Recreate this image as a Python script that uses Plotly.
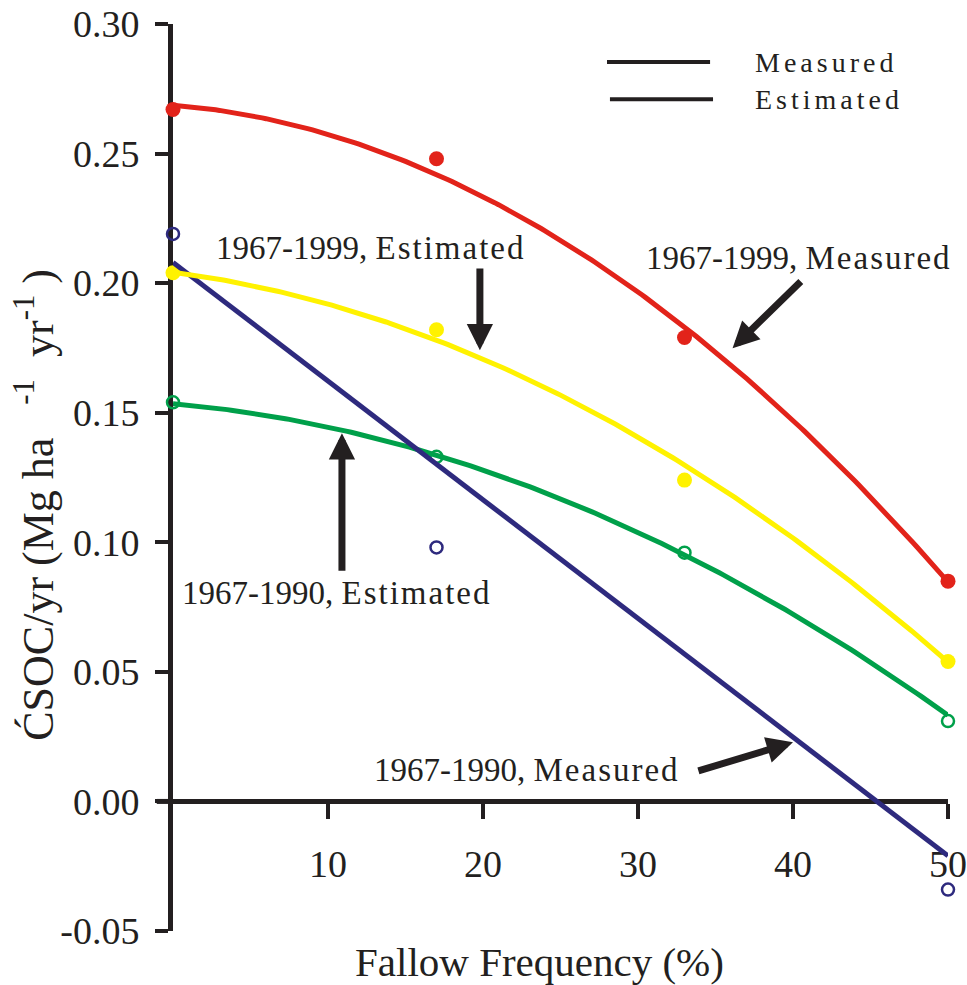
import numpy as np
import plotly.graph_objects as go

# ---- data ----
fallow = [0, 17, 33, 50]
measured_1999 = [0.267, 0.248, 0.179, 0.085]    # red, filled
estimated_1999 = [0.204, 0.182, 0.124, 0.054]   # yellow, filled
estimated_1990 = [0.154, 0.133, 0.096, 0.031]   # green, open
measured_1990_x = [0, 17, 50]
measured_1990 = [0.219, 0.098, -0.034]          # blue, open

# trend-line coefficients (c0 + c1*x + c2*x^2)
fit_measured_1999 = [0.2687, -0.00049, -6.38e-5]
fit_estimated_1999 = [0.2042, -0.000784, -4.45e-5]
fit_estimated_1990 = [0.1535, -0.00053, -3.75e-5]
fit_measured_1990 = [0.208, -0.00458, 0.0]

y_ticks = [-0.05, 0.0, 0.05, 0.10, 0.15, 0.20, 0.25, 0.30]
y_tick_text = ["-0.05", "0.00", "0.05", "0.10", "0.15", "0.20", "0.25", "0.30"]
x_ticks = [10, 20, 30, 40, 50]
x_tick_text = ["10", "20", "30", "40", "50"]

RED = "#E2231A"
YEL = "#FFF200"
GRN = "#00A04A"
BLU = "#2E2A7E"
INK = "#231F20"
FONT = "Liberation Serif"

xs = np.linspace(0, 50, 201)

def curve(c):
    return c[0] + c[1] * xs + c[2] * xs ** 2

fig = go.Figure()

# markers
fig.add_trace(go.Scatter(x=fallow, y=measured_1999, mode="markers", cliponaxis=False,
                         marker=dict(size=15, color=RED), showlegend=False))
fig.add_trace(go.Scatter(x=fallow, y=estimated_1999, mode="markers", cliponaxis=False,
                         marker=dict(size=15, color=YEL), showlegend=False))
fig.add_trace(go.Scatter(x=fallow, y=estimated_1990, mode="markers", cliponaxis=False,
                         marker=dict(size=12, color=GRN, symbol="circle-open",
                                     line=dict(color=GRN, width=2.5)), showlegend=False))
fig.add_trace(go.Scatter(x=measured_1990_x, y=measured_1990, mode="markers", cliponaxis=False,
                         marker=dict(size=12, color=BLU, symbol="circle-open",
                                     line=dict(color=BLU, width=2.5)), showlegend=False))

# trend lines
for c, col in [(fit_estimated_1990, GRN), (fit_measured_1990, BLU),
               (fit_estimated_1999, YEL), (fit_measured_1999, RED)]:
    fig.add_trace(go.Scatter(x=xs, y=curve(c), mode="lines", cliponaxis=False,
                             line=dict(color=col, width=5), showlegend=False,
                             hoverinfo="skip"))

annotations = []

def label(text, x, y, size=33, xanchor="center"):
    annotations.append(dict(x=x, y=y, xref="x", yref="y", text=text, showarrow=False,
                            xanchor=xanchor, yanchor="middle",
                            font=dict(family=FONT, size=size, color=INK)))

label("1967-1999, <span style='letter-spacing:2px'>Estimated</span>", 12.71, 0.2135)
label("1967-1999, <span style='letter-spacing:2px'>Measured</span>", 40.4, 0.2097)
label("1967-1990, <span style='letter-spacing:2px'>Estimated</span>", 10.55, 0.0803)
label("1967-1990, <span style='letter-spacing:2px'>Measured</span>", 22.87, 0.0120)

# arrows (tail -> head)
def arrow(x0, y0, x1, y1):
    annotations.append(dict(x=x1, y=y1, ax=x0, ay=y0, xref="x", yref="y",
                            axref="x", ayref="y", text="", showarrow=True,
                            arrowhead=2, arrowsize=0.75, arrowwidth=7,
                            arrowcolor=INK, standoff=0, startstandoff=0))

arrow(19.8, 0.2062, 19.8, 0.1741)
arrow(40.6, 0.2012, 36.1, 0.1749)
arrow(10.9, 0.0884, 10.9, 0.1421)
arrow(33.8, 0.0116, 40.0, 0.0228)

# legend texts
label("<span style='letter-spacing:4px'>Measured</span>", 37.42, 0.2853, size=28, xanchor="left")
label("<span style='letter-spacing:4px'>Estimated</span>", 37.42, 0.2710, size=28, xanchor="left")

# y-axis title
annotations.append(dict(x=-0.178, y=0.47, xref="paper", yref="paper", showarrow=False,
                        textangle=-90, xanchor="center", yanchor="middle",
                        text="ĆSOC/yr (Mg ha&nbsp;&nbsp;&nbsp;<sup>-1</sup>&nbsp;&nbsp;yr<sup>-1</sup>&nbsp;)",
                        font=dict(family=FONT, size=44, color=INK)))

# x-axis title
annotations.append(dict(x=0.4735, y=-0.034, xref="paper", yref="paper", showarrow=False,
                        xanchor="center", yanchor="middle",
                        text="Fallow Frequency (%)",
                        font=dict(family=FONT, size=41, color=INK)))

shapes = [
    dict(type="line", xref="x", yref="y", x0=28.0, x1=34.65, y0=0.2853, y1=0.2853,
         line=dict(color=INK, width=4)),
    dict(type="line", xref="x", yref="y", x0=28.19, x1=34.84, y0=0.2710, y1=0.2710,
         line=dict(color=INK, width=4)),
    # short stub of the x-axis line left of the y-axis
    dict(type="line", xref="paper", yref="y", x0=-0.021, x1=0, y0=0, y1=0,
         line=dict(color=INK, width=5), layer="below"),
]

fig.update_layout(
    width=967, height=985,
    margin=dict(l=173, r=19, t=24, b=54, autoexpand=False),
    plot_bgcolor="white", paper_bgcolor="white",
    annotations=annotations, shapes=shapes,
    font=dict(family=FONT, color=INK),
    xaxis=dict(range=[0, 50], tickvals=x_ticks, ticktext=x_tick_text,
               anchor="free", position=0.05 / 0.35, automargin=False,
               showline=True, linewidth=5, linecolor=INK,
               ticks="outside", ticklen=15, tickwidth=4, tickcolor=INK,
               tickfont=dict(family=FONT, size=38, color=INK),
               ticklabelstandoff=12,
               showgrid=False, zeroline=False, layer="below traces"),
    yaxis=dict(range=[-0.05, 0.30], tickvals=y_ticks, ticktext=y_tick_text,
               automargin=False,
               showline=True, linewidth=5, linecolor=INK,
               ticks="outside", ticklen=13, tickwidth=4, tickcolor=INK,
               tickfont=dict(family=FONT, size=38, color=INK),
               ticklabelstandoff=8,
               showgrid=False, zeroline=False, layer="below traces"),
)

fig.write_html("out.html")
